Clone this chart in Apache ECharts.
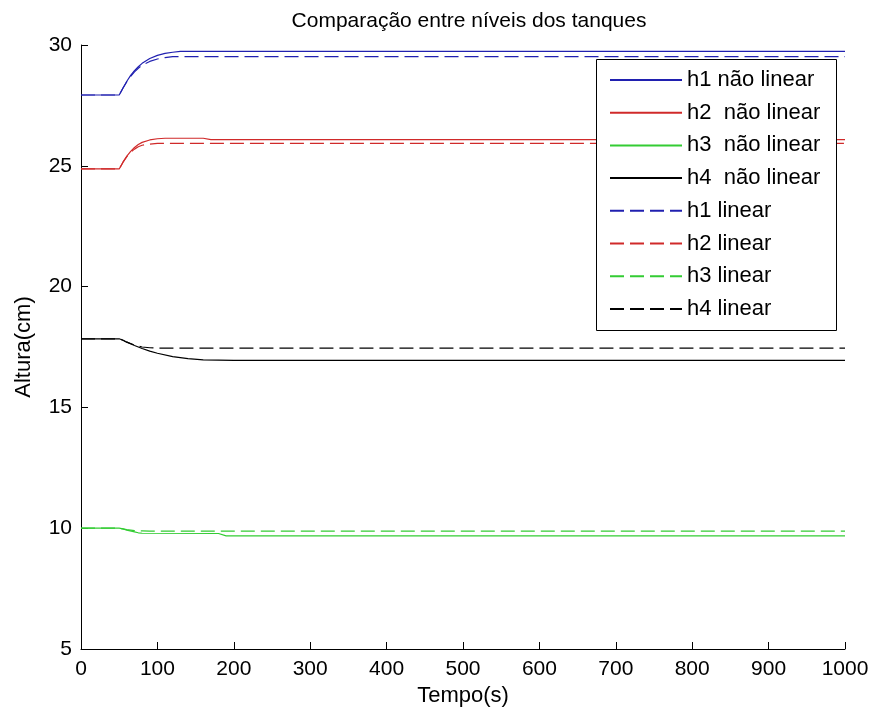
<!DOCTYPE html>
<html>
<head>
<meta charset="utf-8">
<script src="https://cdn.jsdelivr.net/npm/echarts@6/dist/echarts.min.js"></script>
<style>html,body{margin:0;padding:0;background:#fff}#c{width:872px;height:715px}</style>
</head>
<body>
<div id="c"></div>
<script>
var titleText = 'Comparação entre níveis dos tanques';
var xName = 'Tempo(s)';
var yName = 'Altura(cm)';
var xTicks = [0,100,200,300,400,500,600,700,800,900,1000];
var yTicks = [5,10,15,20,25,30];

var tH1nl = [0, 50, 55, 60, 65, 70, 75, 80, 90, 100, 110, 120, 130, 1000];
var h1nl  = [27.93, 27.93, 28.22, 28.5, 28.74, 28.94, 29.1, 29.24, 29.44, 29.57, 29.65, 29.7, 29.74, 29.74];
var tH1l  = [0, 50, 55, 60, 65, 70, 75, 80, 90, 100, 110, 120, 1000];
var h1l   = [27.93, 27.93, 28.22, 28.48, 28.7, 28.89, 29.04, 29.16, 29.32, 29.42, 29.48, 29.52, 29.52];

var tH2nl = [0, 50, 55, 60, 65, 70, 75, 80, 90, 100, 110, 160, 170, 1000];
var h2nl  = [24.87, 24.87, 25.15, 25.4, 25.6, 25.76, 25.88, 25.97, 26.07, 26.12, 26.14, 26.14, 26.08, 26.08];
var tH2l  = [0, 50, 55, 60, 65, 70, 75, 80, 90, 100, 1000];
var h2l   = [24.87, 24.87, 25.15, 25.38, 25.56, 25.69, 25.79, 25.85, 25.9, 25.93, 25.93];

var tH3nl = [0, 50, 55, 60, 70, 75, 80, 180, 190, 1000];
var h3nl  = [10.0, 10.0, 9.97, 9.92, 9.85, 9.81, 9.79, 9.78, 9.68, 9.68];
var tH3l  = [0, 50, 60, 70, 80, 90, 1000];
var h3l   = [10.0, 10.0, 9.94, 9.9, 9.89, 9.88, 9.88];

var tH4nl = [0, 50, 55, 60, 70, 80, 90, 100, 120, 140, 160, 200, 1000];
var h4nl  = [17.84, 17.84, 17.78, 17.7, 17.56, 17.44, 17.33, 17.24, 17.1, 17.02, 16.97, 16.95, 16.95];
var tH4l  = [0, 50, 55, 60, 70, 80, 90, 100, 1000];
var h4l   = [17.84, 17.84, 17.78, 17.7, 17.58, 17.5, 17.47, 17.45, 17.45];

var names = ['h1 não linear','h2  não linear','h3  não linear','h4  não linear','h1 linear','h2 linear','h3 linear','h4 linear'];
var colors = ['#2020b0','#d02a2a','#33cc33','#000000','#2020b0','#d02a2a','#33cc33','#000000'];

function pairs(t, v){ return t.map(function(x,i){ return [x, v[i]]; }); }
var dataSets = [pairs(tH1nl,h1nl), pairs(tH2nl,h2nl), pairs(tH3nl,h3nl), pairs(tH4nl,h4nl),
                pairs(tH1l,h1l), pairs(tH2l,h2l), pairs(tH3l,h3l), pairs(tH4l,h4l)];

var FONT = '"Liberation Sans", Arial, sans-serif';
var series = names.map(function(n,i){
  return {
    name: n, type: 'line', data: dataSets[i], showSymbol: false, symbol: 'none',
    animation: false, z: 2,
    lineStyle: { color: colors[i], width: 1.2, type: i < 4 ? 'solid' : [14, 6] },
    itemStyle: { color: colors[i] }
  };
});

var chart = echarts.init(document.getElementById('c'), null, {renderer: 'canvas'});
chart.setOption({
  backgroundColor: '#ffffff',
  animation: false,
  title: {
    text: titleText, left: 464, top: 6, textAlign: 'center',
    textStyle: { fontFamily: FONT, fontSize: 21, fontWeight: 'normal', color: '#000' }
  },
  grid: { left: 81, right: 27, top: 45, bottom: 66, containLabel: false },
  xAxis: {
    type: 'value', min: 0, max: 1000, interval: 100,
    name: xName, nameLocation: 'middle', nameGap: 36,
    nameTextStyle: { fontFamily: FONT, fontSize: 22, color: '#000' },
    axisLine: { show: true, lineStyle: { color: '#000', width: 1 } },
    axisTick: { show: true, inside: true, length: 7, lineStyle: { color: '#000' } },
    axisLabel: { fontFamily: FONT, fontSize: 21, color: '#000', margin: 10,
      formatter: function(v){ return xTicks.indexOf(v) >= 0 ? String(v) : ''; } },
    splitLine: { show: false }
  },
  yAxis: {
    type: 'value', min: 5, max: 30, interval: 5,
    name: yName, nameLocation: 'middle', nameGap: 46,
    nameTextStyle: { fontFamily: FONT, fontSize: 22, color: '#000' },
    axisLine: { show: true, lineStyle: { color: '#000', width: 1 } },
    axisTick: { show: true, inside: true, length: 7, lineStyle: { color: '#000' } },
    axisLabel: { fontFamily: FONT, fontSize: 21, color: '#000', margin: 9,
      formatter: function(v){ return yTicks.indexOf(v) >= 0 ? String(v) : ''; } },
    splitLine: { show: false }
  },
  legend: {
    data: names, orient: 'vertical', left: 609, top: 69, padding: 0,
    itemWidth: 72, itemHeight: 14, itemGap: 10.7,
    itemStyle: { opacity: 0 },
    textStyle: { fontFamily: FONT, fontSize: 22, color: '#000', lineHeight: 22 },
    z: 10
  },
  graphic: {
    elements: [{
      type: 'rect', left: 596, top: 59, z: 5,
      shape: { x: 0, y: 0, width: 240, height: 271 },
      style: { fill: '#fff', stroke: '#000', lineWidth: 1 }
    }]
  },
  series: series
});
</script>
</body>
</html>
